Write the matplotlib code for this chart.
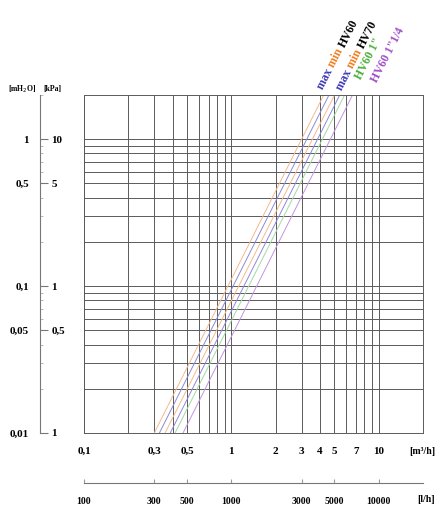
import matplotlib
matplotlib.use('Agg')
import matplotlib.pyplot as plt
import matplotlib.ticker as mticker
import numpy as np

# flow at dp = 0.01 mH2O and at dp = 2 mH2O, per curve (m3/h)
curve_names = ['min HV60', 'max HV60', 'min HV70', 'max HV70', 'HV60 1"', 'HV60 1"1/4']
q_bottom = [0.30, 0.325, 0.355, 0.385, 0.415, 0.47]
q_top = [4.24, 4.60, 5.02, 5.44, 5.87, 6.65]
dp_bottom = 0.01
dp_top = 2.0
curve_colors = ['#f5b98a', '#8e89d8', '#f5b98a', '#8e89d8', '#a3d9a3', '#c195e0']

x_ticks = [0.1, 0.3, 0.5, 1, 2, 3, 4, 5, 7, 10]
x_labels = ['0,1', '0,3', '0,5', '1', '2', '3', '4', '5', '7', '10']
lh_ticks = [100, 300, 500, 1000, 3000, 5000, 10000]
lh_labels = ['100', '300', '500', '1000', '3000', '5000', '10000']
mh2o_ticks = [1, 0.5, 0.1, 0.05, 0.01]
mh2o_labels = ['1', '0,5', '0,1', '0,05', '0,01']
kpa_labels = ['10', '5', '1', '0,5', '1']

W, H = 436, 507
fig = plt.figure(figsize=(W / 100, H / 100), dpi=100)
FONT = 'Liberation Serif'
plt.rcParams['font.family'] = FONT

def rect(x0, y0, x1, y1):
    return [x0 / W, 1 - y1 / H, (x1 - x0) / W, (y1 - y0) / H]

grid_c = '#5a5a5a'

ax = fig.add_axes(rect(84, 95, 423, 433))
ax.set_xscale('log')
ax.set_yscale('log')
ax.set_xlim(0.1, 20)
ax.set_ylim(0.01, 2)

# grid lines
xg = [m * 10.0 ** e for e in (-1, 0) for m in range(1, 10)] + [10]
yg = [m * 10.0 ** e for e in (-2, -1) for m in range(1, 10)] + [1]
for v in xg:
    ax.axvline(v, color=grid_c, lw=0.7, zorder=1)
for v in yg:
    ax.axhline(v, color=grid_c, lw=0.7, zorder=1)

for qb, qt, c in zip(q_bottom, q_top, curve_colors):
    ax.plot([qb, qt], [dp_bottom, dp_top], color=c, lw=0.7, zorder=2)

for s in ax.spines.values():
    s.set_color(grid_c)
    s.set_linewidth(0.7)
ax.yaxis.set_major_locator(mticker.NullLocator())
ax.yaxis.set_minor_locator(mticker.NullLocator())
ax.xaxis.set_major_locator(mticker.FixedLocator(x_ticks))
ax.xaxis.set_minor_locator(mticker.NullLocator())
ax.xaxis.set_major_formatter(mticker.FixedFormatter(x_labels))
ax.tick_params(axis='x', length=0, pad=10, labelsize=8)
for t in ax.get_xticklabels():
    t.set_fontweight('bold')
fig.text(435 / W, 1 - 451 / H, '[m³/h]', fontsize=7, fontweight='bold',
         ha='right', va='center')

# left pressure scale
axl = fig.add_axes(rect(40, 95, 46, 433))
axl.set_yscale('log')
axl.set_ylim(0.01, 2)
axl.set_xticks([])
for k in ('top', 'right', 'bottom'):
    axl.spines[k].set_visible(False)
axl.spines['left'].set_color('#777777')
axl.spines['left'].set_linewidth(0.8)
axl.patch.set_alpha(0)
axl.yaxis.set_major_locator(mticker.FixedLocator(mh2o_ticks))
axl.yaxis.set_major_formatter(mticker.FixedFormatter(mh2o_labels))
axl.yaxis.set_minor_locator(mticker.LogLocator(subs=np.arange(2, 10), numticks=20))
axl.yaxis.set_minor_formatter(mticker.NullFormatter())
axl.tick_params(axis='y', which='major', direction='in', length=6, color='#777777',
                labelsize=8, pad=8)
axl.tick_params(axis='y', which='minor', direction='in', length=2, color='#aaaaaa')
for t in axl.get_yticklabels():
    t.set_fontweight('bold')

axr = axl.twinx()
axr.set_yscale('log')
axr.set_ylim(0.01, 2)
for s in axr.spines.values():
    s.set_visible(False)
axr.yaxis.set_major_locator(mticker.FixedLocator(mh2o_ticks))
axr.yaxis.set_major_formatter(mticker.FixedFormatter(kpa_labels))
axr.yaxis.set_minor_locator(mticker.NullLocator())
axr.tick_params(axis='y', length=0, labelsize=8, pad=4)
for t in axr.get_yticklabels():
    t.set_fontweight('bold')

fig.text(8 / W, 1 - 89 / H, '[mH$_2$O]', fontsize=5.5, fontweight='bold', va='center')
fig.text(43 / W, 1 - 89 / H, '[kPa]', fontsize=5.5, fontweight='bold', va='center')

# bottom l/h scale
axb = fig.add_axes(rect(84, 470, 423, 483))
axb.set_xscale('log')
axb.set_xlim(100, 20000)
axb.set_yticks([])
for k in ('top', 'right', 'left'):
    axb.spines[k].set_visible(False)
axb.spines['bottom'].set_color('#777777')
axb.spines['bottom'].set_linewidth(0.8)
axb.patch.set_alpha(0)
axb.xaxis.set_major_locator(mticker.FixedLocator(lh_ticks))
axb.xaxis.set_major_formatter(mticker.FixedFormatter(lh_labels))
axb.xaxis.set_minor_locator(mticker.NullLocator())
axb.tick_params(axis='x', direction='in', length=3, color='#999999', labelsize=7, pad=10)
for t in axb.get_xticklabels():
    t.set_fontweight('bold')
fig.text(435 / W, 1 - 499 / H, '[l/h]', fontsize=7, fontweight='bold',
         ha='right', va='center')

# rotated multi-colour curve labels
blue, orange, green, purple = '#3c37b4', '#f07d1e', '#4caf3c', '#a04fc8'
labels = [
    ((323, 90), [('max ', blue), ('min ', orange), ('HV60', 'black')]),
    ((342, 91), [('max ', blue), ('min ', orange), ('HV70', 'black')]),
    ((361, 80), [('HV60 1"', green)]),
    ((377, 83), [('HV60 1"1/4', purple)]),
]
angle = 63
renderer = fig.canvas.get_renderer()
ca, sa = np.cos(np.radians(angle)), np.sin(np.radians(angle))
for (x0, y0), parts in labels:
    px, py = x0, y0
    for txt, col in parts:
        fig.text(px / W, 1 - py / H, txt, color=col, fontsize=8.5, fontweight='bold',
                 rotation=angle, rotation_mode='anchor', ha='left', va='baseline')
        tmp = fig.text(0, 0, txt, fontsize=8.5, fontweight='bold')
        w = tmp.get_window_extent(renderer).width
        tmp.remove()
        px += w * ca
        py -= w * sa

fig.savefig('out.png', dpi=100)
